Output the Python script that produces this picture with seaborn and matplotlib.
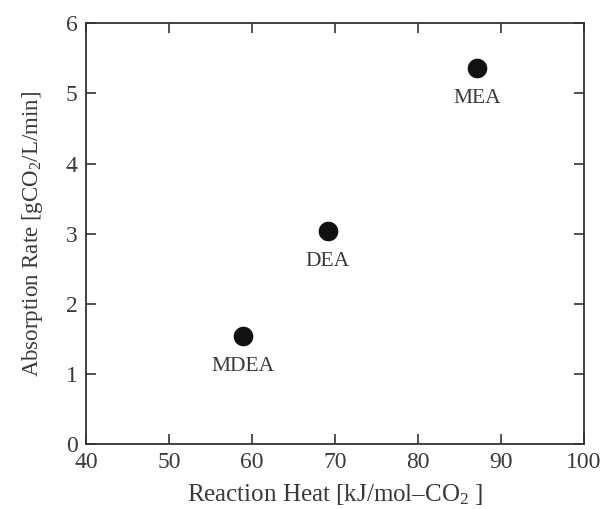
import pandas as pd
import matplotlib
matplotlib.use("Agg")
import matplotlib.pyplot as plt
import seaborn as sns

# Data
amines = ["MDEA", "DEA", "MEA"]
reaction_heat = [58.9, 69.1, 87.1]      # kJ/mol-CO2
absorption_rate = [1.54, 3.04, 5.36]    # gCO2/L/min

df = pd.DataFrame({"amine": amines, "heat": reaction_heat, "rate": absorption_rate})

sns.set_style("ticks")
plt.rcParams['font.family'] = ['Liberation Serif', 'DejaVu Serif']
plt.rcParams['mathtext.fontset'] = 'custom'
plt.rcParams['mathtext.rm'] = 'Liberation Serif'
plt.rcParams['mathtext.it'] = 'Liberation Serif:italic'

text_col = '#3a3a3a'

fig = plt.figure(figsize=(6.11, 5.09), dpi=100)
ax = fig.add_axes([0.1408, 0.1277, 0.8150, 0.8265])

sns.scatterplot(data=df, x="heat", y="rate", color='#111111', s=200,
                edgecolor=None, linewidth=0, ax=ax, legend=False)

for _, r in df.iterrows():
    ax.annotate(r["amine"], (r["heat"], r["rate"]), xytext=(0, -22),
                textcoords='offset points', ha='center', va='center',
                fontsize=15.5, color=text_col)

ax.set_xlim(40, 100)
ax.set_ylim(0, 6)
ax.set_xticks(range(40, 101, 10))
ax.set_yticks(range(0, 7))

ax.set_xlabel("Reaction Heat [kJ/mol–CO$_2$ ]", fontsize=18, color=text_col, labelpad=6)
ax.set_ylabel("Absorption Rate [gCO$_2$/L/min]", fontsize=16.5, color=text_col, labelpad=15)

ax.tick_params(direction='in', length=7, width=1.2, top=True, right=True,
               labelsize=17, colors='#333333', labelcolor=text_col, pad=6)
for sp in ax.spines.values():
    sp.set_linewidth(1.3)
    sp.set_color('#333333')
    sp.set_visible(True)

fig.savefig("out.png", dpi=100)
